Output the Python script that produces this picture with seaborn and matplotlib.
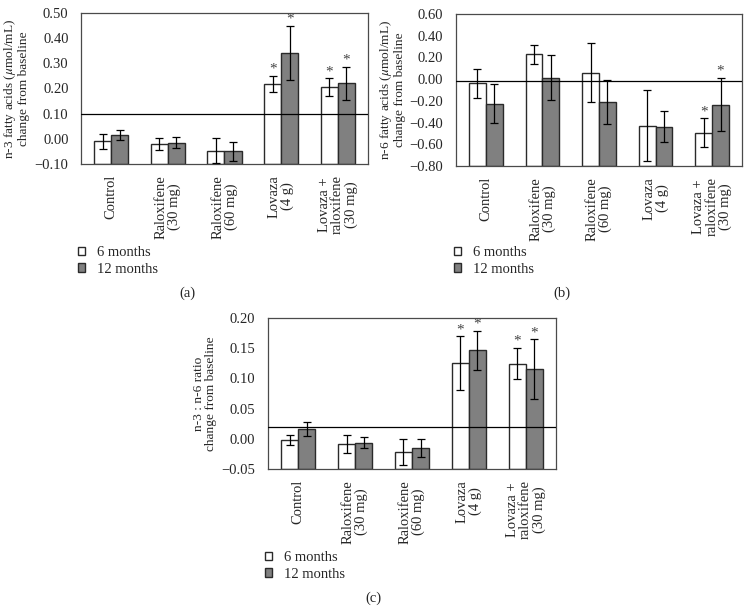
import numpy as np
import pandas as pd
import seaborn as sns
import matplotlib.pyplot as plt
from matplotlib.ticker import FuncFormatter

groups = ['Control', 'Raloxifene\n(30 mg)', 'Raloxifene\n(60 mg)', 'Lovaza\n(4 g)', 'Lovaza +\nraloxifene\n(30 mg)']
periods = ['6 months', '12 months']

# panel (a) n-3 fatty acids
n3_6m = [-0.010, -0.020, -0.048, 0.218, 0.205]
n3_12m = [0.015, -0.015, -0.050, 0.342, 0.220]
n3_err_6m = [0.030, 0.025, 0.050, 0.032, 0.035]
n3_err_12m = [0.020, 0.023, 0.038, 0.107, 0.066]
n3_star_6m = [0, 0, 0, 1, 1]
n3_star_12m = [0, 0, 0, 1, 1]
n3_line = 0.097

# panel (b) n-6 fatty acids
n6_6m = [-0.040, 0.231, 0.061, -0.428, -0.492]
n6_12m = [-0.225, 0.015, -0.212, -0.437, -0.234]
n6_err_6m = [0.135, 0.088, 0.275, 0.327, 0.130]
n6_err_12m = [0.177, 0.208, 0.205, 0.145, 0.248]
n6_star_6m = [0, 0, 0, 0, 1]
n6_star_12m = [0, 0, 0, 0, 1]
n6_line = -0.015

# panel (c) n-3 : n-6 ratio
ratio_6m = [-0.002, -0.009, -0.022, 0.1255, 0.1244]
ratio_12m = [0.0164, -0.0066, -0.0148, 0.1463, 0.1156]
ratio_err_6m = [0.008, 0.015, 0.022, 0.044, 0.026]
ratio_err_12m = [0.012, 0.0088, 0.015, 0.033, 0.049]
ratio_star_6m = [0, 0, 0, 1, 1]
ratio_star_12m = [0, 0, 0, 1, 1]
ratio_line = 0.02

sns.set_theme(style='white')
plt.rcParams['font.family'] = ['Liberation Serif', 'DejaVu Serif']
plt.rcParams['mathtext.fontset'] = 'stix'

W, H = 751, 612
fig = plt.figure(figsize=(W / 100, H / 100), dpi=100)

edge = '#2a2a2a'
spine = '#4a4a4a'
fs = 10.5


def panel(rect, v6, v12, e6, e12, s6, s12, hline, ylim, ystep, ylabel, leg_xy, cap, cap_xy):
    ax = fig.add_axes(rect)
    df = pd.DataFrame({
        'group': groups * 2,
        'period': [periods[0]] * 5 + [periods[1]] * 5,
        'value': v6 + v12,
    })
    sns.barplot(data=df, x='group', y='value', hue='period', order=groups, hue_order=periods,
                palette=['white', '#808080'], edgecolor=edge, linewidth=1.0, width=0.6,
                errorbar=None, ax=ax)
    ax.set_ylim(*ylim)
    # bars start from the bottom of the axis, as in the original
    for cont in ax.containers:
        for r in cont:
            top = r.get_y() + r.get_height()
            r.set_y(ylim[0])
            r.set_height(top - ylim[0])
    for cont, vals, errs, stars in zip(ax.containers, [v6, v12], [e6, e12], [s6, s12]):
        xs = [r.get_x() + r.get_width() / 2 for r in cont]
        ax.errorbar(xs, vals, yerr=errs, fmt='none', ecolor='black', elinewidth=0.9,
                    capsize=2.8, capthick=0.9, zorder=5)
        for x, v, e, s in zip(xs, vals, errs, stars):
            if s:
                ax.annotate('*', (x, v + e), xytext=(0, 0), textcoords='offset points',
                            ha='center', va='bottom', fontsize=11, color='#444444')
    ax.axhline(hline, color='black', lw=0.9, zorder=4)
    ax.set_yticks(np.arange(ylim[0], ylim[1] + ystep / 2, ystep))
    ax.yaxis.set_major_formatter(FuncFormatter(lambda v, p: f'{v:.2f}'.replace('-', '\u2212')
                                               if abs(v) > 1e-9 else '0.00'))
    ax.set_xlabel('')
    ax.set_ylabel(ylabel, fontsize=9.6, linespacing=1.0, labelpad=3)
    ax.tick_params(axis='y', labelsize=fs, left=False, pad=3)
    ax.tick_params(axis='x', labelsize=fs, bottom=False, pad=2)
    plt.setp(ax.get_xticklabels(), rotation=90, ha='center', va='top', multialignment='center',
             linespacing=1.0)
    for sp in ax.spines.values():
        sp.set_color(spine)
        sp.set_linewidth(0.9)
    sns.move_legend(ax, 'upper left', bbox_to_anchor=(leg_xy[0] / W, 1 - leg_xy[1] / H),
                    bbox_transform=fig.transFigure, frameon=False, title=None, fontsize=fs,
                    handlelength=0.5, handleheight=0.5, handletextpad=0.8, labelspacing=0.25,
                    borderpad=0, borderaxespad=0)
    fig.text(cap_xy[0] / W, 1 - cap_xy[1] / H, cap, ha='center', va='center', fontsize=fs)
    return ax


def frac(l, t, r, b):
    return [l / W, 1 - b / H, (r - l) / W, (b - t) / H]


panel(frac(81, 13, 368, 164), n3_6m, n3_12m, n3_err_6m, n3_err_12m, n3_star_6m, n3_star_12m,
      n3_line, (-0.10, 0.50), 0.10, 'n-3 fatty acids ($\\mu$mol/mL)\nchange from baseline',
      (78, 246), '(a)', (187, 293))
panel(frac(456, 14, 742, 166), n6_6m, n6_12m, n6_err_6m, n6_err_12m, n6_star_6m, n6_star_12m,
      n6_line, (-0.80, 0.60), 0.20, 'n-6 fatty acids ($\\mu$mol/mL)\nchange from baseline',
      (454, 246), '(b)', (562, 293))
panel(frac(268, 318, 556, 469), ratio_6m, ratio_12m, ratio_err_6m, ratio_err_12m, ratio_star_6m,
      ratio_star_12m, ratio_line, (-0.05, 0.20), 0.05, 'n-3 : n-6 ratio\nchange from baseline',
      (265, 551), '(c)', (373, 598))

fig.savefig('out.png', dpi=100)
